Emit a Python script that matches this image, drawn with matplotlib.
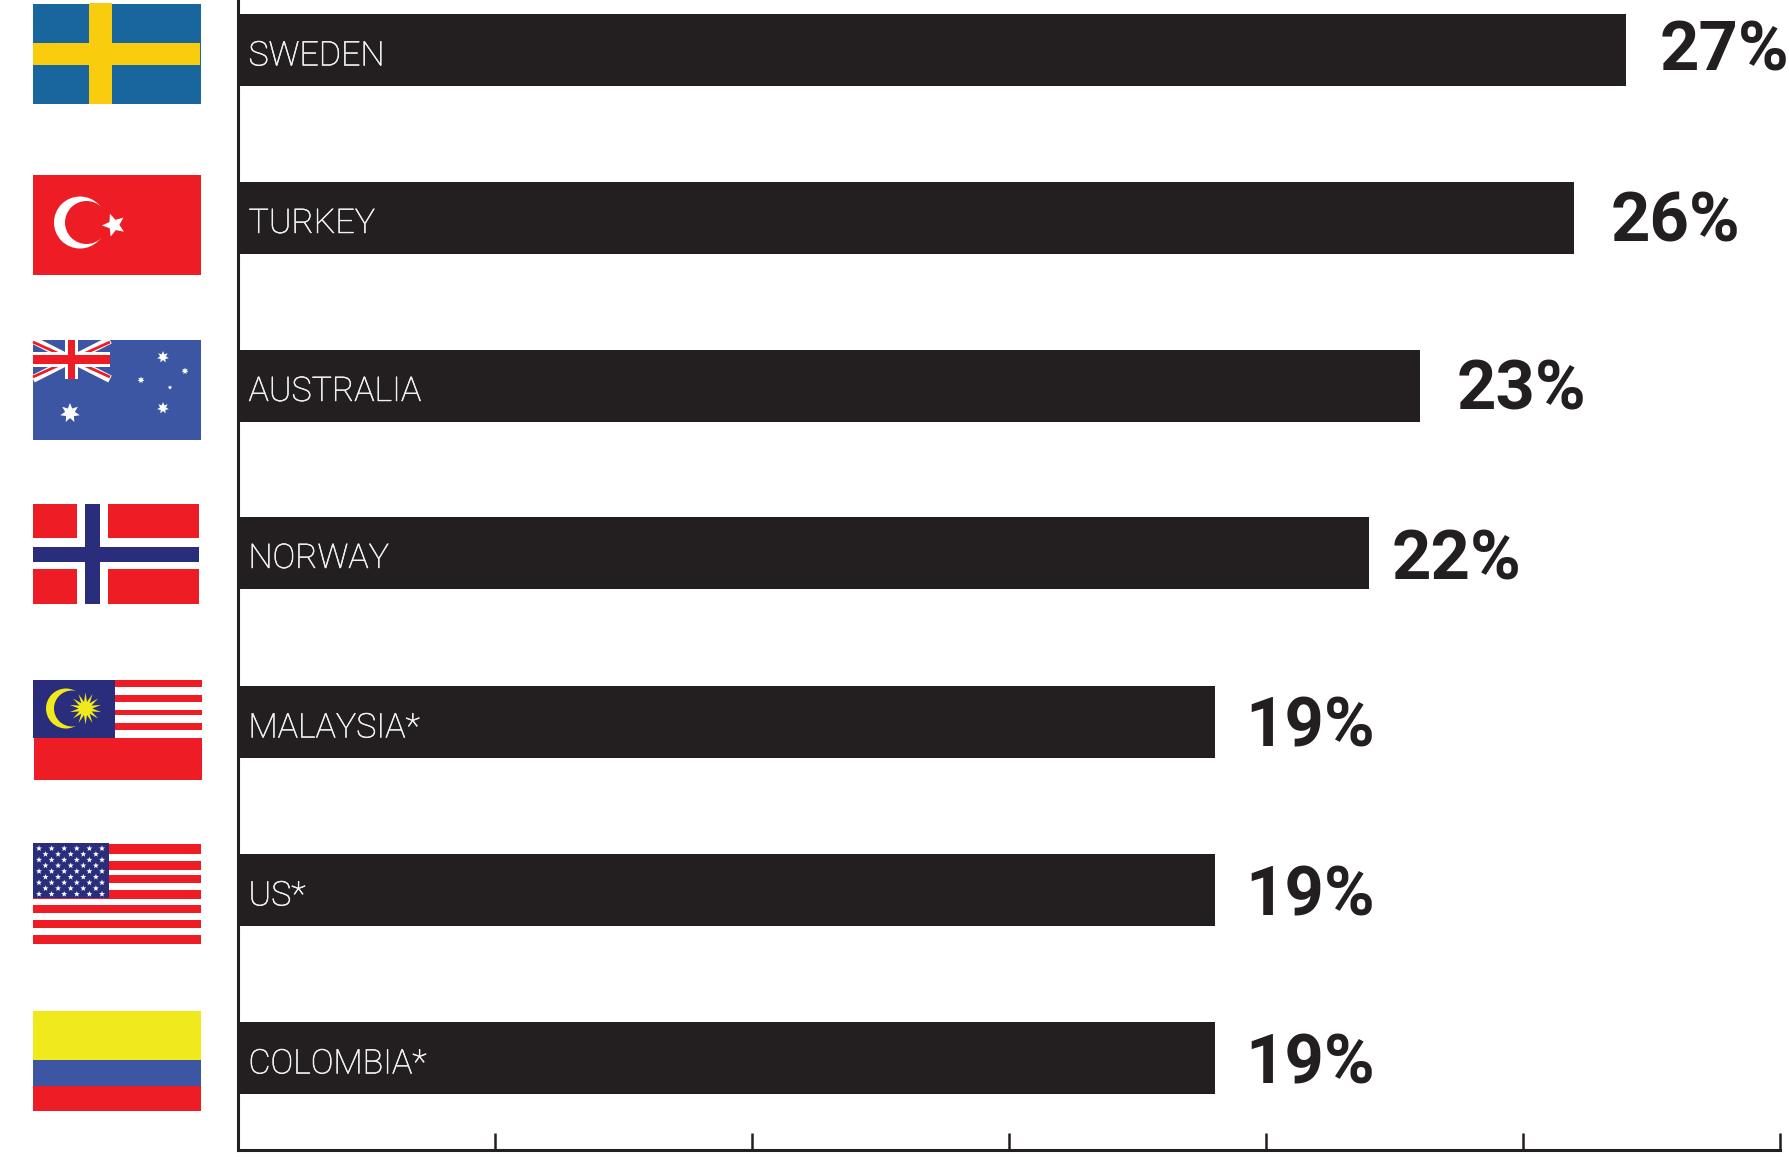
import numpy as np
import matplotlib
matplotlib.use("Agg")
import matplotlib.pyplot as plt
import matplotlib.patheffects as pe
from matplotlib.patches import Rectangle, Polygon, Circle

countries = ["SWEDEN", "TURKEY", "AUSTRALIA", "NORWAY", "MALAYSIA*", "US*", "COLOMBIA*"]
values = [27, 26, 23, 22, 19, 19, 19]
value_labels = ["27%", "26%", "23%", "22%", "19%", "19%", "19%"]
tick_values = [0, 5, 10, 15, 20, 25, 30]

W, H = 1790, 1169
DARK = "#231f20"
RED, BLUE, NAVY, YEL = "#ee1c25", "#3c56a4", "#2a2d7c", "#f0e91c"

# layout (pixels)
rows_px = [50, 217.5, 385.5, 552.5, 722, 890, 1058]
gaps = [34, 36, 36, 23, 31, 31, 31]
value_dy = [2.3, 5.7, 5.7, 8.5, 5.7, 7, 7]

fig = plt.figure(figsize=(W / 100, H / 100), dpi=100, facecolor="white")
L, R, B, T = 238, 1780, 1149.5, -10
ax = fig.add_axes([L / W, 1 - B / H, (R - L) / W, (B - T) / H])
ax.set_xlim(0, 30)
ax.set_ylim(B, T)
ax.barh(rows_px, values, height=72, color=DARK, left=0)
for s in ["top", "right"]:
    ax.spines[s].set_visible(False)
for s in ["left", "bottom"]:
    ax.spines[s].set_linewidth(2.2)
    ax.spines[s].set_color(DARK)
ax.set_xticks(tick_values)
ax.tick_params(axis="x", direction="in", length=12.5, width=1.8, color=DARK, labelbottom=False)
ax.set_yticks([])

pxx = 30 / (R - L)
for yi, name, v, lab, g, dy in zip(rows_px, countries, values, value_labels, gaps, value_dy):
    ax.text(10.5 * pxx, yi + 6.5, name, color="#f4f4f4", fontsize=24.5, family="Roboto",
            weight="light", va="center", ha="left",
            path_effects=[pe.withStroke(linewidth=0.35, foreground="#f4f4f4")])
    ax.text(v + g * pxx, yi + dy, lab, color=DARK, fontsize=49.5, family="Roboto",
            weight="bold", va="center", ha="left")

# overlay in reference pixels for the decorative flags
ov = fig.add_axes([0, 0, 1, 1], facecolor="none")
ov.set_xlim(0, W)
ov.set_ylim(H, 0)
ov.axis("off")

def rect(x0, y0, x1, y1, c, z=1):
    ov.add_patch(Rectangle((x0, y0), x1 - x0, y1 - y0, fc=c, ec="none", lw=0, zorder=z))

def star(cx, cy, r, n=5, inner=0.42, c="white", rot=-90, z=3):
    a = np.deg2rad(rot) + np.arange(2 * n) * np.pi / n
    rr = np.where(np.arange(2 * n) % 2 == 0, r, r * inner)
    ov.add_patch(Polygon(np.c_[cx + rr * np.cos(a), cy + rr * np.sin(a)], fc=c, ec="none", zorder=z))

# Sweden
rect(33, 4, 201, 104, "#19669f")
rect(89, 3, 112, 104, "#f9cd0d", 2)
rect(33, 43, 200, 65, "#f9cd0d", 2)

# Turkey
rect(33, 175, 201, 275, RED)
ov.add_patch(Circle((80, 222.5), 26, fc="white", ec="none", zorder=2))
ov.add_patch(Circle((86.5, 222.5), 21.5, fc=RED, ec="none", zorder=3))
star(114, 225, 12, inner=0.45, rot=-110, z=4)

# Australia
rect(33, 340, 201, 440, BLUE)
for (x0, y0, x1, y1), col, lw in [((33, 340, 110, 379), "white", 5.5), ((33, 379, 110, 340), "white", 5.5),
                                  ((33, 342, 110, 377), RED, 2), ((33, 377, 110, 342), RED, 2)]:
    ov.plot([x0, x1], [y0, y1], color=col, lw=lw, zorder=3, solid_capstyle="butt")
rect(65, 340, 78, 379, "white", 4)
rect(33, 352, 110, 367, "white", 4)
rect(68, 340, 75, 379, RED, 5)
rect(33, 355, 110, 364, RED, 5)
star(70, 413, 10, n=7, inner=0.5)
star(163, 357, 6, n=7, inner=0.5)
star(185, 371, 3.5, n=7, inner=0.5)
star(141, 380, 3.5, n=7, inner=0.5)
star(170, 387.5, 2.2, n=7, inner=0.5)
star(163, 408, 6, n=7, inner=0.5)

# Norway
rect(33, 503.5, 199, 604, RED)
rect(77, 503.5, 108, 604, "white", 2)
rect(33, 538, 199, 568.5, "white", 2)
rect(85, 503.5, 100, 604, NAVY, 3)
rect(33, 546.5, 199, 561.5, NAVY, 3)

# Malaysia
rect(34, 679.5, 202, 779.5, "white")
rect(34, 737.5, 202, 779.5, RED)
for a, b in [(679.5, 686.5), (694.5, 701.5), (709.5, 714.5), (722.5, 729.5)]:
    rect(115, a, 202, b, RED, 2)
rect(33, 679.5, 115, 737.5, NAVY, 3)
ov.add_patch(Circle((66, 708.5), 20, fc=YEL, ec="none", zorder=4))
ov.add_patch(Circle((72, 708.5), 18, fc=NAVY, ec="none", zorder=5))
star(85.5, 708.5, 16, n=14, inner=0.42, c=YEL, z=6)

# USA
rect(33, 844, 201, 944, "white")
for a, b in [(844, 854), (861, 870), (875, 883), (890, 899), (905, 913), (920, 928), (935, 944)]:
    rect(33, a, 201, b, RED, 2)
rect(33, 843, 109, 898, NAVY, 3)
for row in range(9):
    n = 6 if row % 2 == 0 else 5
    off = 39 if row % 2 == 0 else 45.5
    for i in range(n):
        star(off + 12.6 * i, 848.5 + row * 5.7, 3.1, z=4)

# Colombia
rect(33, 1011, 201, 1060, YEL)
rect(33, 1060, 201, 1086, BLUE)
rect(33, 1086, 201, 1111, RED)

fig.savefig("out.png", dpi=100, facecolor="white")
